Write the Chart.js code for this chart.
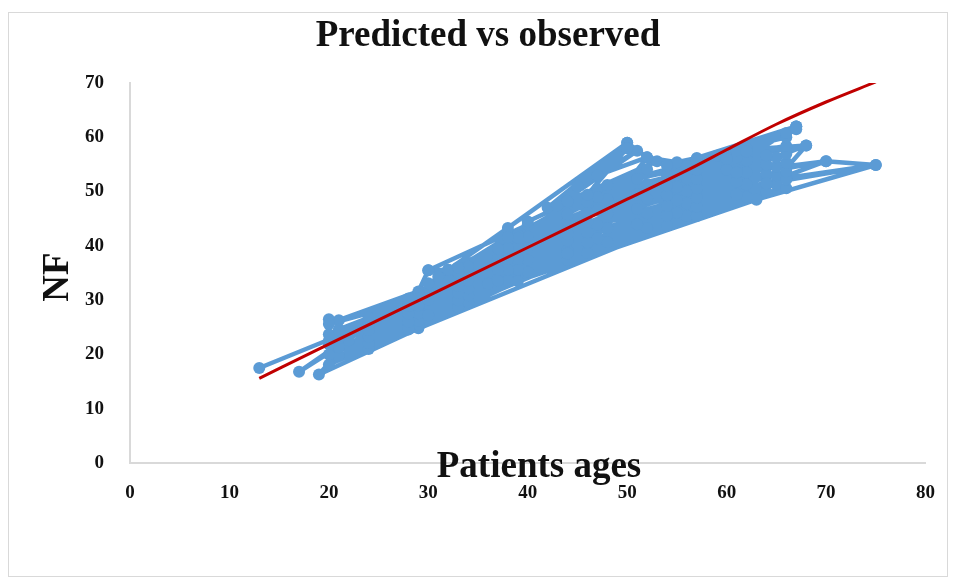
<!DOCTYPE html>
<html>
<head>
<meta charset="utf-8">
<script src="https://cdn.jsdelivr.net/npm/chart.js@4/dist/chart.umd.min.js"></script>
<style>
  html, body { margin: 0; padding: 0; background: #ffffff; }
  #wrap { width: 954px; height: 581px; }
</style>
</head>
<body>
<div id="wrap"><canvas id="chart" width="954" height="581"></canvas></div>
<script>
// Observed NF by patient age, in recorded order (the line joins them in this order)
const observedAge = [
  13, 24, 17, 22, 19, 29, 39, 63, 75, 70, 66, 68, 62, 67, 57, 55, 52, 50, 38, 32, 30, 29, 21, 20, 20,
  20, 29, 21, 28, 20, 29, 21, 28, 20, 29, 21, 28, 20, 29, 21, 28, 20, 29,
  28, 40, 29, 39, 28, 40, 29, 39, 28, 40, 29, 39, 28, 40, 29, 39, 28, 40,
  30, 36, 31, 39, 32,
  38, 52, 37, 51, 38, 52, 37, 51, 38, 52, 37, 51, 38, 52, 37, 51, 38, 52,
  42, 50, 44, 53, 40, 47,
  48, 62, 47, 61, 48, 62, 47, 61, 48, 62, 47, 61, 48, 62, 47, 61, 48, 62,
  56, 64, 55, 65, 56, 64, 55, 65, 56, 64, 55, 65, 56, 64, 55, 65, 56, 64,
  60, 67, 61, 68, 61, 70, 64, 75, 66,
  24, 34, 24, 34, 24, 34, 24, 34, 24, 34, 24, 34,
  33, 46, 33, 46, 33, 46, 33, 46, 33, 46, 33, 46, 33, 46,
  50, 45, 51, 43, 50, 47, 52,
  44, 57, 44, 57, 44, 57, 44, 57, 44, 57, 44, 57, 44, 57,
  54, 66, 54, 66, 54, 66, 54, 66, 54, 66, 54, 66, 54, 66,
  67, 59, 66, 60, 67, 62,
  30, 44, 30, 44, 30, 44
];
const observedNF = [
  17.5, 25.7, 16.8, 22.6, 16.3, 24.8, 33.5, 48.5, 54.9, 55.6, 54.3, 58.5, 56.6, 62.0, 56.2, 55.4, 56.3, 59.0, 43.3, 35.6, 35.5, 31.6, 26.3, 26.5, 22.5,
  18.1, 25.5, 19.7, 25.3, 20.0, 26.9, 21.3, 26.7, 21.9, 28.3, 23.0, 28.2, 23.7, 29.7, 24.6, 29.6, 25.6, 31.1,
  24.6, 35.2, 26.2, 35.6, 26.0, 37.4, 27.6, 37.6, 27.5, 39.6, 29.0, 39.7, 28.9, 41.7, 30.4, 42.0, 30.3, 43.9,
  35.5, 33.0, 34.3, 41.5, 35.6,
  33.6, 43.3, 33.6, 44.0, 35.6, 46.0, 35.6, 46.8, 37.6, 48.7, 37.5, 49.5, 39.6, 51.4, 39.5, 52.3, 41.6, 54.1,
  47.0, 59.0, 48.3, 55.6, 44.5, 50.5,
  40.7, 49.0, 41.4, 49.5, 43.3, 51.3, 43.9, 51.8, 45.9, 53.5, 46.5, 54.0, 48.6, 55.7, 49.0, 56.3, 51.2, 58.0,
  45.5, 49.9, 46.1, 51.3, 47.8, 51.6, 48.4, 53.0, 50.1, 53.3, 50.8, 54.6, 52.4, 55.0, 53.1, 56.3, 54.7, 56.7,
  54.0, 62.0, 57.6, 58.5, 53.5, 55.6, 51.5, 54.9, 52.5,
  21.0, 29.6, 22.1, 30.9, 23.3, 32.2, 24.5, 33.6, 25.6, 34.9, 26.8, 36.2,
  28.7, 38.7, 30.0, 40.6, 31.3, 42.5, 32.6, 44.4, 33.8, 46.2, 35.1, 48.1, 36.0, 49.4,
  58.0, 51.0, 57.5, 47.5, 58.0, 53.0, 56.3,
  37.4, 45.5, 39.2, 47.2, 41.0, 48.9, 42.8, 50.6, 44.6, 52.3, 46.4, 54.0, 48.2, 55.7,
  43.7, 50.6, 45.6, 52.2, 47.4, 53.7, 49.3, 55.3, 51.1, 56.9, 53.0, 58.4, 54.8, 60.0,
  62.0, 56.6, 60.8, 56.0, 61.5, 57.4,
  27.2, 38.6, 30.1, 42.2, 33.1, 45.8
];

// Predicted NF curve, by age
const predictedAge = [13, 20, 30, 40, 50, 56, 60, 65, 70, 75];
const predictedNF  = [15.6, 21.9, 30.8, 39.7, 48.6, 53.9, 57.7, 62.4, 66.5, 70.2];

// Axis ticks
const xTicks = [0, 10, 20, 30, 40, 50, 60, 70, 80];
const yTicks = [0, 10, 20, 30, 40, 50, 60, 70];

const chartTitle = 'Predicted vs observed';
const xTitle = 'Patients ages';
const yTitle = 'NF';

const serif = '"Liberation Serif", "Times New Roman", serif';

const observedPoints = observedAge.map((a, i) => ({ x: a, y: observedNF[i] }));
const predictedPoints = predictedAge.map((a, i) => ({ x: a, y: predictedNF[i] }));

// Frame, chart title and axis titles
const decorations = {
  id: 'decorations',
  beforeDraw(chart) {
    const ctx = chart.ctx;
    ctx.save();
    ctx.fillStyle = '#ffffff';
    ctx.fillRect(0, 0, chart.width, chart.height);
    ctx.strokeStyle = '#d9d9d9';
    ctx.lineWidth = 1;
    ctx.strokeRect(8.5, 12.5, 939, 564);
    ctx.restore();
  },
  afterDraw(chart) {
    const ctx = chart.ctx;
    ctx.save();
    ctx.fillStyle = '#111111';
    ctx.textAlign = 'center';
    ctx.textBaseline = 'alphabetic';
    ctx.font = 'bold 37px ' + serif;
    ctx.fillText(chartTitle, 488, 46);
    ctx.fillText(xTitle, 539, 477);
    ctx.translate(68, 277);
    ctx.rotate(-Math.PI / 2);
    ctx.fillText(yTitle, 0, 0);
    ctx.restore();
  }
};

const tickFont = { family: serif, size: 19, weight: 'bold' };

new Chart(document.getElementById('chart'), {
  type: 'scatter',
  data: {
    datasets: [
      {
        label: 'Predicted',
        data: predictedPoints,
        showLine: true,
        borderColor: '#c00000',
        borderWidth: 3,
        pointRadius: 0,
        cubicInterpolationMode: 'monotone',
        order: 0
      },
      {
        label: 'Observed',
        data: observedPoints,
        showLine: true,
        borderColor: '#5b9bd5',
        backgroundColor: '#5b9bd5',
        borderWidth: 4.5,
        borderJoinStyle: 'round',
        borderCapStyle: 'round',
        pointRadius: 6,
        pointBorderWidth: 0,
        pointBackgroundColor: '#5b9bd5',
        tension: 0,
        order: 1
      }
    ]
  },
  options: {
    responsive: false,
    animation: false,
    devicePixelRatio: 1,
    layout: { padding: { left: 0, right: 26, top: 83, bottom: 0 } },
    plugins: {
      legend: { display: false },
      title: { display: false },
      tooltip: { enabled: false }
    },
    scales: {
      x: {
        type: 'linear',
        min: 0,
        max: 80,
        afterBuildTicks: axis => { axis.ticks = xTicks.map(v => ({ value: v })); },
        afterFit: axis => { axis.height = 118; },
        grid: { display: false, drawTicks: false },
        border: { display: true, color: '#d9d9d9', width: 2 },
        ticks: { padding: 19, color: '#111111', font: tickFont, maxRotation: 0 }
      },
      y: {
        type: 'linear',
        min: 0,
        max: 70,
        afterBuildTicks: axis => { axis.ticks = yTicks.map(v => ({ value: v })); },
        afterFit: axis => { axis.width = 130; },
        grid: { display: false, drawTicks: false },
        border: { display: true, color: '#d9d9d9', width: 2 },
        ticks: { padding: 26, color: '#111111', font: tickFont }
      }
    }
  },
  plugins: [decorations]
});
</script>
</body>
</html>
